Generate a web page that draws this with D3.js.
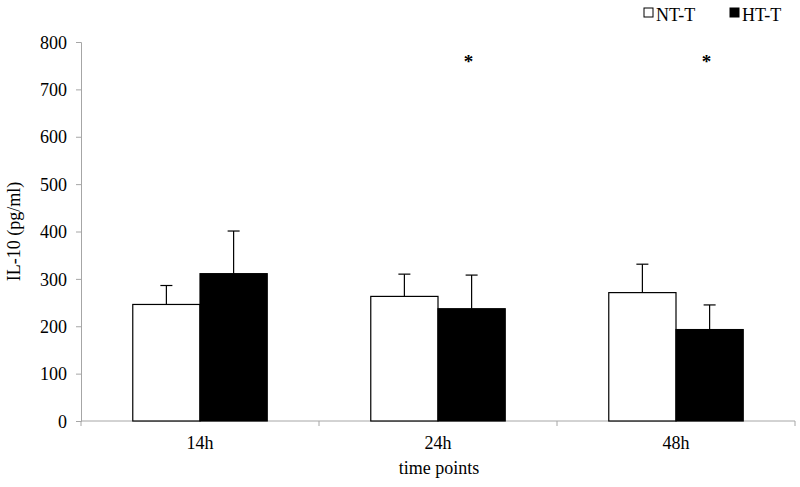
<!DOCTYPE html>
<html>
<head>
<meta charset="utf-8">
<script src="https://cdn.jsdelivr.net/npm/d3@7"></script>
<style>
  body { margin: 0; background: #fff; }
  svg text { font-family: "Liberation Serif", "Times New Roman", serif !important; fill: #000; }
</style>
</head>
<body>
<div id="chart"></div>
<script>
// data
var timePoints = ["14h", "24h", "48h"];
var seriesNames = ["NT-T", "HT-T"];
var ntMeans = [246, 263, 271];
var ntErrors = [40, 47, 60];
var htMeans = [311, 237, 193];
var htErrors = [90, 71, 52];
var significant = [false, true, true]; // asterisk above HT-T bar
var yTicks = [0, 100, 200, 300, 400, 500, 600, 700, 800];

var width = 800, height = 487;
var margin = { top: 42, right: 5, bottom: 66, left: 81 };
var fontSize = "18px";

var svg = d3.select("#chart")
    .append("svg")
    .attr("width", width)
    .attr("height", height);

var x = d3.scaleBand()
    .domain(timePoints)
    .range([margin.left, width - margin.right]);

var xInner = d3.scaleBand()
    .domain(seriesNames)
    .range([0, x.bandwidth()])
    .paddingInner(0)
    .paddingOuter(0.77);

var y = d3.scaleLinear()
    .domain([0, 800])
    .range([height - margin.bottom, margin.top]);

var axisColor = "#a6a6a6";

// y axis
var yAxis = svg.append("g")
    .attr("transform", "translate(" + margin.left + ",0)")
    .call(d3.axisLeft(y).tickValues(yTicks).tickSize(5).tickPadding(9));
yAxis.attr("font-family", null).attr("font-size", null);
yAxis.select(".domain").attr("stroke", axisColor);
yAxis.selectAll(".tick line").attr("stroke", axisColor);
yAxis.selectAll(".tick text")
    .attr("fill", "#000")
    .attr("dy", "0.34em")
    .style("font-size", fontSize);

// x axis: ticks sit on category boundaries
var bounds = [margin.left].concat(timePoints.map(function (d) { return x(d) + x.bandwidth(); }));
var xAxisG = svg.append("g");
xAxisG.append("line")
    .attr("x1", margin.left).attr("x2", width - margin.right)
    .attr("y1", y(0)).attr("y2", y(0))
    .attr("stroke", axisColor);
xAxisG.selectAll(".bt")
    .data(bounds)
    .join("line")
    .attr("x1", function (d) { return d; })
    .attr("x2", function (d) { return d; })
    .attr("y1", y(0)).attr("y2", y(0) + 5)
    .attr("stroke", axisColor);
xAxisG.selectAll(".lab")
    .data(timePoints)
    .join("text")
    .attr("x", function (d) { return x(d) + x.bandwidth() / 2; })
    .attr("y", y(0) + 28)
    .attr("text-anchor", "middle")
    .style("font-size", fontSize)
    .text(function (d) { return d; });

// bars
var rows = timePoints.map(function (t, i) {
    return [
        { t: t, s: "NT-T", v: ntMeans[i], e: ntErrors[i] },
        { t: t, s: "HT-T", v: htMeans[i], e: htErrors[i] }
    ];
});

var groups = svg.selectAll(".grp")
    .data(rows)
    .join("g")
    .attr("transform", function (d) { return "translate(" + x(d[0].t) + ",0)"; });

// error bars (upward only), drawn first so bars cover the stem base
groups.selectAll(".err")
    .data(function (d) { return d; })
    .join("g")
    .each(function (d) {
        var g = d3.select(this);
        var cx = xInner(d.s) + xInner.bandwidth() / 2;
        g.append("line")
            .attr("x1", cx).attr("x2", cx)
            .attr("y1", y(d.v)).attr("y2", y(d.v + d.e))
            .attr("stroke", "#000").attr("stroke-width", 1.2);
        g.append("line")
            .attr("x1", cx - 6).attr("x2", cx + 6)
            .attr("y1", y(d.v + d.e)).attr("y2", y(d.v + d.e))
            .attr("stroke", "#000").attr("stroke-width", 1.2);
    });

groups.selectAll("rect")
    .data(function (d) { return d; })
    .join("rect")
    .attr("x", function (d) { return xInner(d.s); })
    .attr("y", function (d) { return y(d.v); })
    .attr("width", xInner.bandwidth())
    .attr("height", function (d) { return y(0) - y(d.v); })
    .attr("fill", function (d) { return d.s === "NT-T" ? "#fff" : "#000"; })
    .attr("stroke", "#000")
    .attr("stroke-width", 1.2);

// significance asterisks
groups.filter(function (d, i) { return significant[i]; })
    .append("text")
    .attr("x", xInner("HT-T") + xInner.bandwidth() / 2 - 3)
    .attr("y", y(745))
    .attr("text-anchor", "middle")
    .style("font-size", "19px")
    .style("font-weight", "bold")
    .text("*");

// axis titles
svg.append("text")
    .attr("transform", "translate(20," + (y(400)) + ") rotate(-90)")
    .attr("text-anchor", "middle")
    .style("font-size", fontSize)
    .text("IL-10 (pg/ml)");

svg.append("text")
    .attr("x", (margin.left + width - margin.right) / 2 + 1)
    .attr("y", 474)
    .attr("text-anchor", "middle")
    .style("font-size", fontSize)
    .text("time points");

// legend
var legend = svg.append("g").attr("transform", "translate(644,8)");
var legendX = [0, 86];
seriesNames.forEach(function (s, i) {
    legend.append("rect")
        .attr("x", legendX[i]).attr("y", 0)
        .attr("width", 9).attr("height", 9)
        .attr("fill", i === 0 ? "#fff" : "#000")
        .attr("stroke", "#000").attr("stroke-width", 1);
    legend.append("text")
        .attr("x", legendX[i] + 12).attr("y", 13)
        .style("font-size", fontSize)
        .text(s);
});
</script>
</body>
</html>
